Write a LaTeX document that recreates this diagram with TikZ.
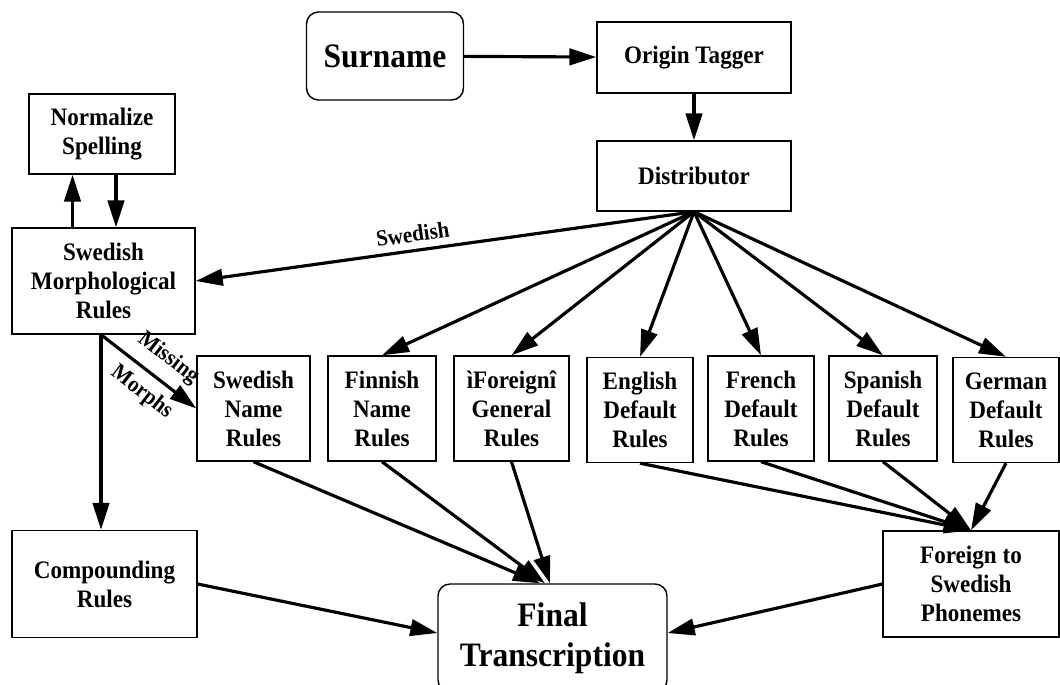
\documentclass[tikz,border=0pt]{standalone}
\usepackage{fontspec}
\setmainfont{Liberation Serif}[FakeStretch=0.92]
\usetikzlibrary{arrows.meta}

\begin{document}
\begin{tikzpicture}[
  box/.style={draw,line width=0.8pt,align=center,inner sep=0pt,font=\bfseries\fontsize{14.3}{16.5}\selectfont},
  bigbox/.style={box,rounded corners=0.24cm,font=\bfseries\fontsize{19.5}{22.7}\selectfont},
  rules/.style={box,minimum height=2.1cm},
  arr/.style={line width=1.8pt,-{Triangle[length=5.4mm,width=3.3mm]}},
  lab/.style={font=\bfseries\fontsize{13}{14}\selectfont,sloped,inner sep=0pt}]
\useasboundingbox(0,0)rectangle(21.2,-13.68);
% top row
\node[bigbox,minimum width=3.14cm,minimum height=1.76cm](sur)at(7.70,-1.12){Surname};
\node[box,minimum width=3.88cm,minimum height=1.42cm](tag)at(13.88,-1.15){Origin Tagger};
\node[box,minimum width=3.88cm,minimum height=1.40cm](dist)at(13.88,-3.52){Distributor};
% left column
\node[box,minimum width=2.92cm,minimum height=1.60cm](norm)at(2.04,-2.68){Normalize\\Spelling};
\node[box,minimum width=3.66cm,minimum height=2.12cm](morph)at(2.07,-5.62){Swedish\\Morphological\\Rules};
\node[box,minimum width=3.70cm,minimum height=2.14cm](comp)at(2.09,-11.68){Compounding\\Rules};
% rule boxes
\node[rules,minimum width=2.26cm](swe)at(5.07,-8.17){Swedish\\Name\\Rules};
\node[rules,minimum width=2.16cm](fin)at(7.64,-8.17){Finnish\\Name\\Rules};
\node[rules,minimum width=2.30cm](for)at(10.23,-8.17){ìForeignî\\General\\Rules};
\node[rules,minimum width=2.12cm](eng)at(12.80,-8.20){English\\Default\\Rules};
\node[rules,minimum width=2.12cm](fre)at(15.22,-8.17){French\\Default\\Rules};
\node[rules,minimum width=2.16cm](spa)at(17.66,-8.17){Spanish\\Default\\Rules};
\node[rules,minimum width=2.12cm](ger)at(20.12,-8.20){German\\Default\\Rules};
% bottom row
\node[bigbox,minimum width=4.58cm,minimum height=2.16cm](fint)at(11.05,-12.76){Final\\Transcription};
\node[box,minimum width=3.52cm,minimum height=2.12cm](pho)at(19.42,-11.68){Foreign to\\Swedish\\Phonemes};
% connectors
\draw[arr](sur)--(tag);
\draw[arr](tag)--(dist);
\draw[arr]([xshift=-6.2mm]morph.north)--([xshift=-6.2mm]morph.north|-norm.south);
\draw[arr]([xshift=2.8mm]norm.south)--([xshift=2.8mm]norm.south|-morph.north);
\draw[arr](dist.south)--node[lab,pos=0.56,above=4pt]{Swedish}(morph.east);
\foreach \n in {fin,for,eng,fre,spa,ger} \draw[arr](dist.south)--(\n.north);
\draw[arr]([xshift=-0.5mm]morph.south)--node[lab,pos=0.56,above=6pt]{Missing}node[lab,pos=0.56,below=5pt]{Morphs}(swe.west);
\draw[arr]([xshift=-0.5mm]morph.south)--([xshift=-0.5mm]morph.south|-comp.north);
\draw[arr](swe.south)--([xshift=-2.5mm]fint.north);
\draw[arr](fin.south)--([xshift=-1.5mm]fint.north);
\draw[arr](for.south)--([xshift=-0.5mm]fint.north);
\draw[arr](comp.east)--([yshift=1mm]fint.west);
\foreach \n in {eng,fre,spa,ger} \draw[arr](\n.south)--(pho.north);
\draw[arr](pho.west)--([yshift=1mm]fint.east);
\end{tikzpicture}
\end{document}
